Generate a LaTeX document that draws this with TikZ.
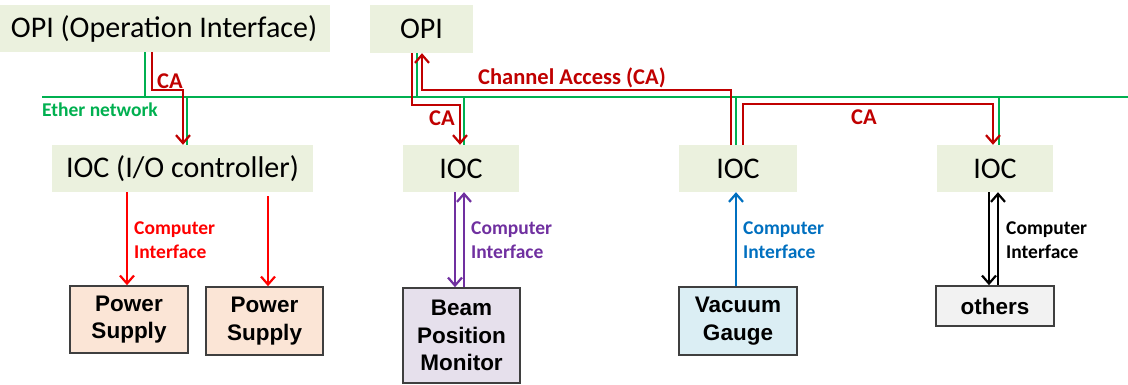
\documentclass[tikz,border=0pt]{standalone}
\usepackage{fontspec}
\setmainfont{Carlito}
\newfontfamily\arialfont{Liberation Sans}
\usetikzlibrary{arrows.meta}
\definecolor{topfill}{HTML}{EBF1DE}
\definecolor{psfill}{HTML}{FBE5D6}
\definecolor{bpmfill}{HTML}{E6E0EC}
\definecolor{vgfill}{HTML}{DBEEF4}
\definecolor{othfill}{HTML}{F2F2F2}
\definecolor{bordergray}{HTML}{3F3F3F}
\definecolor{netgreen}{HTML}{00B050}
\definecolor{cared}{HTML}{C00000}
\definecolor{cired}{HTML}{FF0000}
\definecolor{cipurple}{HTML}{7030A0}
\definecolor{ciblue}{HTML}{0070C0}
\tikzset{
  x=1pt, y=-1pt,
  topbox/.style={fill=topfill, inner sep=0pt, font=\fontsize{30}{36}\selectfont},
  devbox/.style={draw=bordergray, line width=1.6pt, inner sep=0pt, align=center,
    font=\arialfont\bfseries\fontsize{22.5}{27.5}\selectfont},
  netline/.style={draw=netgreen, line width=2.2pt},
  calink/.style={draw=cared, line width=2.2pt, -{Straight Barb[length=8pt,width=14pt]}},
  cilink/.style={line width=2.2pt, -{Straight Barb[length=8pt,width=14pt]}},
  calabel/.style={text=cared, font=\bfseries\fontsize{22.5}{26}\selectfont, inner sep=0pt},
  cilabel/.style={font=\bfseries\fontsize{19.5}{24}\selectfont, align=left, anchor=west, inner sep=0pt},
}
\begin{document}
\begin{tikzpicture}
\useasboundingbox[fill=white] (0,0) rectangle (1128,385);

% top boxes
\node[topbox, minimum width=332pt, minimum height=47pt] (opi1) at (164,28.5) {OPI (Operation Interface)};
\node[topbox, minimum width=103pt, minimum height=48pt] (opi2) at (421.5,29) {OPI};
\node[topbox, minimum width=261pt, minimum height=47pt] (ioc1) at (182.5,168.5) {IOC (I/O controller)};
\node[topbox, minimum width=116pt, minimum height=47pt] (ioc2) at (461,168.5) {IOC};
\node[topbox, minimum width=118pt, minimum height=47pt] (ioc3) at (738,168.5) {IOC};
\node[topbox, minimum width=116pt, minimum height=47pt] (ioc4) at (995,168.5) {IOC};

% device boxes
\node[devbox, fill=psfill, minimum width=118pt, minimum height=67pt] (ps1) at (129,319.5) {Power\\Supply};
\node[devbox, fill=psfill, minimum width=117pt, minimum height=68pt] (ps2) at (264.5,321) {Power\\Supply};
\node[devbox, fill=bpmfill, minimum width=117pt, minimum height=95pt] (bpm) at (461.5,335.5) {Beam\\Position\\Monitor};
\node[devbox, fill=vgfill, minimum width=118pt, minimum height=68pt] (vg) at (738,321) {Vacuum\\Gauge};
\node[devbox, fill=othfill, minimum width=118pt, minimum height=40pt] (oth) at (995,306) {others};

% ether network
\coordinate (ethL) at (42,97);
\coordinate (ethR) at (1128,97);
\draw[netline] (ethL) -- (ethR);
\node[text=netgreen, font=\bfseries\fontsize{19.5}{22}\selectfont, inner sep=0pt] (ethlabel) at (100,110) {Ether network};

\draw[netline] (145,0 |- opi1.south) -- (145,0 |- ethL);
\draw[netline] (187,0 |- ethL) -- (187,0 |- ioc1.north);
\draw[netline] (417,0 |- opi2.south) -- (417,0 |- ethL);
\draw[netline] (464,0 |- ethL) -- (464,0 |- ioc2.north);
\draw[netline] (736,0 |- ethL) -- (736,0 |- ioc3.north);
\draw[netline] (999,0 |- ethL) -- (999,0 |- ioc4.north);

% channel access links
\draw[calink] (152,0 |- opi1.south) -- (152,90) -- (183,90) -- (183,0 |- ioc1.north);
\node[calabel] (ca1) at (170,81) {CA};
\draw[calink] (412,0 |- opi2.south) -- (412,105) -- (460,105) -- (460,0 |- ioc2.north);
\node[calabel] (ca2) at (442,118) {CA};
\draw[calink] (731,0 |- ioc3.north) -- (731,90) -- (422,90) -- (422,0 |- opi2.south);
\node[calabel] (ca3) at (572,78) {Channel Access (CA)};
\draw[calink] (743,0 |- ioc3.north) -- (743,104) -- (993,104) -- (993,0 |- ioc4.north);
\node[calabel] (ca4) at (864,117) {CA};

% computer interface links
\draw[cilink, cired] (127,0 |- ioc1.south) -- (127,0 |- ps1.north);
\draw[cilink, cired] ([yshift=-4pt]268,0 |- ioc1.south) -- (268,0 |- ps2.north);
\node[cilabel, text=cired] (ci1) at (134,240) {Computer\\Interface};

\draw[cilink, cipurple] (455,0 |- ioc2.south) -- (455,0 |- bpm.north);
\draw[cilink, cipurple] (464,0 |- bpm.north) -- (464,0 |- ioc2.south);
\node[cilabel, text=cipurple] (ci2) at (471,240) {Computer\\Interface};

\draw[cilink, ciblue] (736,0 |- vg.north) -- (736,0 |- ioc3.south);
\node[cilabel, text=ciblue] (ci3) at (743,240) {Computer\\Interface};

\draw[cilink, black] (989,0 |- ioc4.south) -- (989,0 |- oth.north);
\draw[cilink, black] (998,0 |- oth.north) -- (998,0 |- ioc4.south);
\node[cilabel, text=black] (ci4) at (1006,240) {Computer\\Interface};
\end{tikzpicture}
\end{document}
